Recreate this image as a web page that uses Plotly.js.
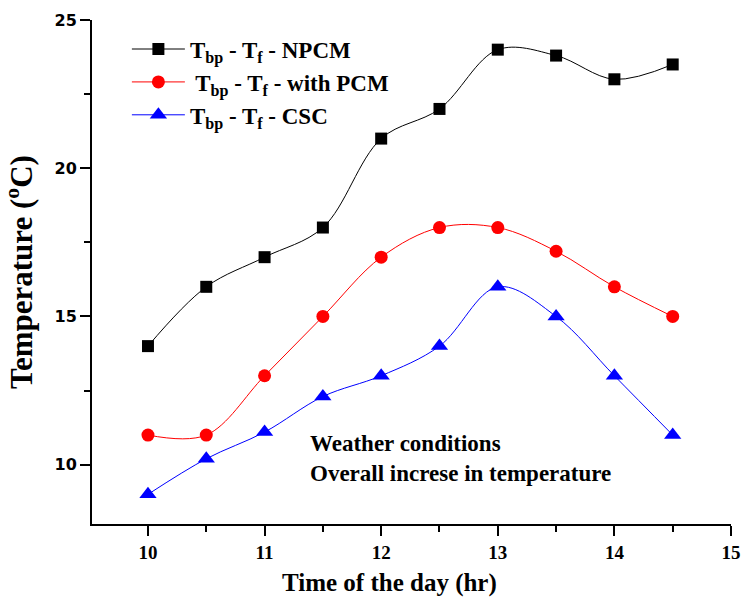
<!DOCTYPE html>
<html>
<head>
<meta charset="utf-8">
<script src="https://cdn.plot.ly/plotly-3.0.1.min.js"></script>
<style>html,body{margin:0;padding:0;background:#fff;}#chart{width:741px;height:605px;}</style>
</head>
<body>
<div id="chart"></div>
<script>
const hours = [10, 10.5, 11, 11.5, 12, 12.5, 13, 13.5, 14, 14.5];
const npcm = [14, 16, 17, 18, 21, 22, 24, 23.8, 23, 23.5];
const withPcm = [11, 11, 13, 15, 17, 18, 18, 17.2, 16, 15];
const csc = [9, 10.2, 11.1, 12.3, 13, 14, 16, 15, 13, 11];
const seriesNames = [
  'T<sub>bp</sub> - T<sub>f</sub> - NPCM',
  ' T<sub>bp</sub> - T<sub>f</sub> - with PCM',
  'T<sub>bp</sub> - T<sub>f</sub> - CSC'
];
const xTitle = 'Time of the day (hr)';
const yTitle = 'Temperature (<sup>o</sup>C)';
const noteText = 'Weather conditions<br>Overall increse in temperature';

const serif = 'Liberation Serif, Times New Roman, serif';

function tr(y, name, color, symbol, size) {
  return {
    x: hours, y: y, name: name, type: 'scatter', mode: 'lines+markers',
    line: {color: color, width: 1, shape: 'spline', smoothing: 1},
    marker: {color: color, symbol: symbol, size: size, line: {width: 0}}
  };
}

const data = [
  tr(npcm, seriesNames[0], '#000000', 'square', 12),
  tr(withPcm, seriesNames[1], '#ff0000', 'circle', 13),
  tr(csc, seriesNames[2], '#0000ff', 'triangle-up', 15)
];

const layout = {
  width: 741, height: 605,
  margin: {l: 92, r: 10, t: 20, b: 81},
  paper_bgcolor: '#fff', plot_bgcolor: '#fff',
  showlegend: true,
  legend: {
    x: 0.0546, y: 0.985, xanchor: 'left', yanchor: 'top',
    itemwidth: 53,
    font: {family: serif, size: 23, color: '#000', weight: 'bold'},
    bgcolor: 'rgba(0,0,0,0)', tracegroupgap: 0
  },
  xaxis: {
    range: [9.52, 15], tickmode: 'linear', tick0: 10, dtick: 1,
    showgrid: false, zeroline: false, showline: true, linecolor: '#000', linewidth: 2,
    ticks: 'outside', ticklen: 10, tickwidth: 2, tickcolor: '#000',
    ticklabeloverflow: 'allow',
    minor: {dtick: 0.5, tick0: 10, ticks: 'outside', ticklen: 6, tickwidth: 2, tickcolor: '#000', showgrid: false},
    tickfont: {family: serif, size: 19, color: '#000', weight: 'bold'}
  },
  yaxis: {
    range: [8, 25], tickmode: 'linear', tick0: 10, dtick: 5,
    showgrid: false, zeroline: false, showline: true, linecolor: '#000', linewidth: 2,
    ticks: 'outside', ticklen: 10, tickwidth: 2, tickcolor: '#000',
    minor: {dtick: 2.5, tick0: 10, ticks: 'outside', ticklen: 6, tickwidth: 2, tickcolor: '#000', showgrid: false},
    tickfont: {family: 'DejaVu Sans, Verdana, sans-serif', size: 16, color: '#000', weight: 'bold'},
    title: {text: yTitle, font: {family: serif, size: 31, color: '#000', weight: 'bold'}, standoff: 14}
  },
  annotations: [{
    x: 11.37, y: 10.2, xref: 'x', yref: 'y', xanchor: 'left', yanchor: 'middle', align: 'left',
    text: noteText, showarrow: false,
    font: {family: serif, size: 23, color: '#000', weight: 'bold'}
  }, {
    x: 0.466, y: -0.117, xref: 'paper', yref: 'paper', xanchor: 'center', yanchor: 'middle',
    text: xTitle, showarrow: false,
    font: {family: serif, size: 25, color: '#000', weight: 'bold'}
  }]
};

Plotly.newPlot('chart', data, layout, {displayModeBar: false, staticPlot: true});
</script>
</body>
</html>
